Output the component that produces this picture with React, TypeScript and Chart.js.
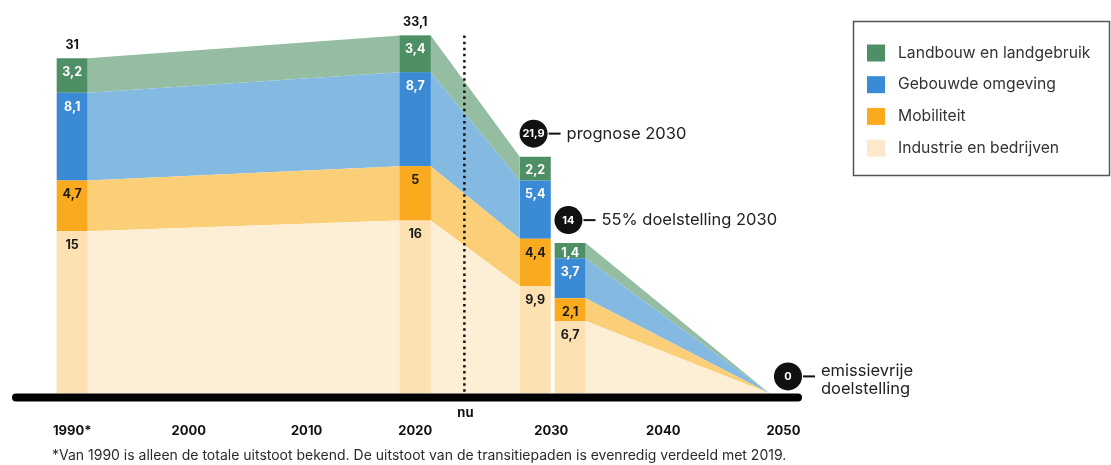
import React, { useEffect, useRef } from 'react';
import { Chart, registerables } from 'chart.js';

Chart.register(...registerables);

const FONT = 'Inter, "Noto Sans", "DejaVu Sans", sans-serif';

// ---- data ----
const categories = ['1990', '2020', '2030 prognose', '2030 doelstelling'];
const barYears = [1990, 2020, 2030.5, 2033.55];
const industrie = [15, 16, 9.9, 6.7];
const mobiliteit = [4.7, 5, 4.4, 2.1];
const gebouwde = [8.1, 8.7, 5.4, 3.7];
const landbouw = [3.2, 3.4, 2.2, 1.4];
const endYear = 2051;
const endValues = [0, 0, 0, 0];
const layerNames = ['Industrie en bedrijven', 'Mobiliteit', 'Gebouwde omgeving', 'Landbouw en landgebruik'];

const tickLabels = ['1990*', '2000', '2010', '2020', '2030', '2040', '2050'];
const tickYears = [1990, 2000.2, 2010.5, 2020, 2031.9, 2041.7, 2052.2];
const nowYear = 2024.3;
const nowLabel = 'nu';

const badgeTexts = ['21,9', '14', '0'];
const badgeYears = [2030.35, 2033.4, 2052.6];
const badgeValues = [21.9, 13.9, 0];
const badgeCaptions = [['prognose 2030'], ['55% doelstelling 2030'], ['emissievrije', 'doelstelling']];
const footnote = '*Van 1990 is alleen de totale uitstoot bekend. De uitstoot van de transitiepaden is evenredig verdeeld met 2019.';

// ---- styles ----
const barColors = ['#fde1b3', '#f9aa1e', '#3a8ad6', '#4f8f66'];
const areaColors = ['#fdeed6', '#fbcf78', '#84b9e2', '#94bda2'];
const legendColors = ['#fde8cb', '#f9aa1e', '#3a8ad6', '#4f8f66'];
const labelColors = ['#1a1a1a', '#1a1a1a', '#ffffff', '#ffffff'];
const barWidthYears = 2.71;

const fmt = (v: number) => (Math.round(v * 10) / 10).toString().replace('.', ',');

export default function App() {
  const ref = useRef<HTMLCanvasElement>(null);

  useEffect(() => {
    const canvas = ref.current;
    if (!canvas) return;
    const layers = [industrie, mobiliteit, gebouwde, landbouw];
    const h = barWidthYears / 2;
    let minGap = Infinity;
    for (let i = 1; i < barYears.length; i++) minGap = Math.min(minGap, barYears[i] - barYears[i - 1]);
    const cp = barWidthYears / minGap;

    const barDatasets = layers.map((vals, i) => ({
      type: 'bar' as const,
      label: layerNames[i],
      stack: 'bars',
      order: 0,
      data: barYears.map((x, j) => ({ x, y: vals[j] })),
      backgroundColor: barColors[i],
      borderWidth: 0,
      categoryPercentage: cp,
      barPercentage: 1,
    }));
    const areaA = layers.map((vals, i) => ({
      type: 'line' as const,
      label: layerNames[i] + ' A',
      stack: 'areaA',
      order: 1,
      data: [
        { x: barYears[0] + h, y: vals[0] },
        { x: barYears[1] - h, y: vals[1] },
        { x: barYears[1] + h, y: vals[1] },
        { x: barYears[2] - h, y: vals[2] },
      ],
      backgroundColor: areaColors[i],
      borderColor: areaColors[i],
      borderWidth: 0,
      pointRadius: 0,
      tension: 0,
      fill: i === 0 ? 'origin' : '-1',
    }));
    const areaB = layers.map((vals, i) => ({
      type: 'line' as const,
      label: layerNames[i] + ' B',
      stack: 'areaB',
      order: 1,
      data: [
        { x: barYears[3] + h, y: vals[3] },
        { x: endYear, y: endValues[i] },
      ],
      backgroundColor: areaColors[i],
      borderColor: areaColors[i],
      borderWidth: 0,
      pointRadius: 0,
      tension: 0,
      fill: i === 0 ? 'origin' : '-1',
    }));

    const decor = {
      id: 'decor',
      afterDatasetsDraw(chart: any) {
        const ctx = chart.ctx as CanvasRenderingContext2D;
        const xs = chart.scales.x;
        const ys = chart.scales.y;
        const area = chart.chartArea;
        ctx.save();
        // dotted "nu" line
        const nx = xs.getPixelForValue(nowYear);
        ctx.strokeStyle = '#111';
        ctx.lineWidth = 2.5;
        ctx.setLineDash([2.5, 3.6]);
        ctx.beginPath();
        ctx.moveTo(nx, ys.getPixelForValue(33.1));
        ctx.lineTo(nx, area.bottom);
        ctx.stroke();
        ctx.setLineDash([]);

        // segment labels
        ctx.textAlign = 'center';
        ctx.textBaseline = 'middle';
        ctx.font = `bold 12.5px ${FONT}`;
        for (let i = 0; i < 4; i++) {
          const meta = chart.getDatasetMeta(i);
          meta.data.forEach((el: any, j: number) => {
            const p = el.getProps(['x', 'y', 'base'], true);
            const hgt = p.base - p.y;
            ctx.fillStyle = labelColors[i];
            ctx.fillText(fmt(layers[i][j]), p.x, p.y + Math.min(14, hgt / 2 + 3));
          });
        }
        // totals above first two bars
        ctx.fillStyle = '#111';
        for (let j = 0; j < 2; j++) {
          const top = chart.getDatasetMeta(3).data[j].getProps(['x', 'y'], true);
          const total = layers.reduce((s, l) => s + l[j], 0);
          ctx.fillText(fmt(total), top.x, top.y - 13);
        }

        // baseline
        ctx.strokeStyle = '#000';
        ctx.lineWidth = 8;
        ctx.lineCap = 'round';
        ctx.beginPath();
        ctx.moveTo(area.left + 1, area.bottom + 4);
        ctx.lineTo(area.right - 6, area.bottom + 4);
        ctx.stroke();

        // badges
        badgeTexts.forEach((t, k) => {
          const cx = xs.getPixelForValue(badgeYears[k]);
          const cy = ys.getPixelForValue(badgeValues[k]) - (k === 2 ? 17 : 23);
          const r = 14;
          ctx.fillStyle = '#111';
          ctx.beginPath();
          ctx.arc(cx, cy, r, 0, Math.PI * 2);
          ctx.fill();
          ctx.fillStyle = '#fff';
          ctx.font = `bold 11px ${FONT}`;
          ctx.textAlign = 'center';
          ctx.textBaseline = 'middle';
          ctx.fillText(t, cx, cy + 0.5);
          ctx.strokeStyle = '#111';
          ctx.lineWidth = 2;
          ctx.lineCap = 'butt';
          ctx.beginPath();
          ctx.moveTo(cx + r + 1, cy);
          ctx.lineTo(cx + r + 13, cy);
          ctx.stroke();
          ctx.fillStyle = '#222';
          ctx.font = `16.5px ${FONT}`;
          ctx.textAlign = 'left';
          const lines = badgeCaptions[k];
          if (lines.length === 1) {
            ctx.fillText(lines[0], cx + r + 19, cy);
          } else {
            ctx.fillText(lines[0], cx + r + 19, cy - 5);
            ctx.fillText(lines[1], cx + r + 19, cy + 13);
          }
        });
        ctx.restore();
      },
      afterDraw(chart: any) {
        const ctx = chart.ctx as CanvasRenderingContext2D;
        const xs = chart.scales.x;
        ctx.save();
        // "nu" label
        ctx.fillStyle = '#111';
        ctx.font = `bold 13px ${FONT}`;
        ctx.textAlign = 'center';
        ctx.textBaseline = 'middle';
        ctx.fillText(nowLabel, xs.getPixelForValue(nowYear) + 1, chart.chartArea.bottom + 20);

        // legend
        ctx.strokeStyle = '#555';
        ctx.lineWidth = 1.5;
        ctx.strokeRect(853.5, 21.5, 256, 154);
        ctx.font = `15.7px ${FONT}`;
        ctx.textAlign = 'left';
        for (let n = 0; n < 4; n++) {
          const i = 3 - n;
          const cy = 53 + n * 31.7;
          ctx.fillStyle = legendColors[i];
          ctx.fillRect(867, cy - 8.5, 18, 17);
          ctx.fillStyle = '#333';
          ctx.fillText(layerNames[i], 898, cy);
        }

        // footnote
        ctx.fillStyle = '#2b2b2b';
        ctx.font = `14px ${FONT}`;
        ctx.fillText(footnote, 52, 456);
        ctx.restore();
      },
    };

    const chart = new Chart(canvas, {
      type: 'bar',
      data: { labels: categories, datasets: [...barDatasets, ...areaA, ...areaB] as any },
      options: {
        responsive: false,
        animation: false,
        events: [],
        layout: { padding: { left: 15, right: 307, top: 15, bottom: -4 } },
        plugins: { legend: { display: false }, tooltip: { enabled: false } },
        scales: {
          x: {
            type: 'linear',
            min: 1985,
            max: 2054,
            offset: false,
            grid: { display: false, drawTicks: false },
            border: { display: false },
            afterBuildTicks: (scale: any) => {
              scale.ticks = tickYears.map((v) => ({ value: v }));
            },
            ticks: {
              autoSkip: false,
              maxRotation: 0,
              padding: 30,
              color: '#111',
              font: { family: FONT, size: 13, weight: 'bold' },
              callback: (_v: any, idx: number) => tickLabels[idx],
            },
          },
          y: {
            display: false,
            stacked: true,
            min: 0,
            max: 35,
          },
        },
      } as any,
      plugins: [decor],
    });
    return () => chart.destroy();
  }, []);

  return (
    <div style={{ position: 'absolute', left: 0, top: 0, width: 1111, height: 465, background: '#fff' }}>
      <canvas ref={ref} width={1111} height={465} style={{ display: 'block', width: 1111, height: 465 }} />
    </div>
  );
}
